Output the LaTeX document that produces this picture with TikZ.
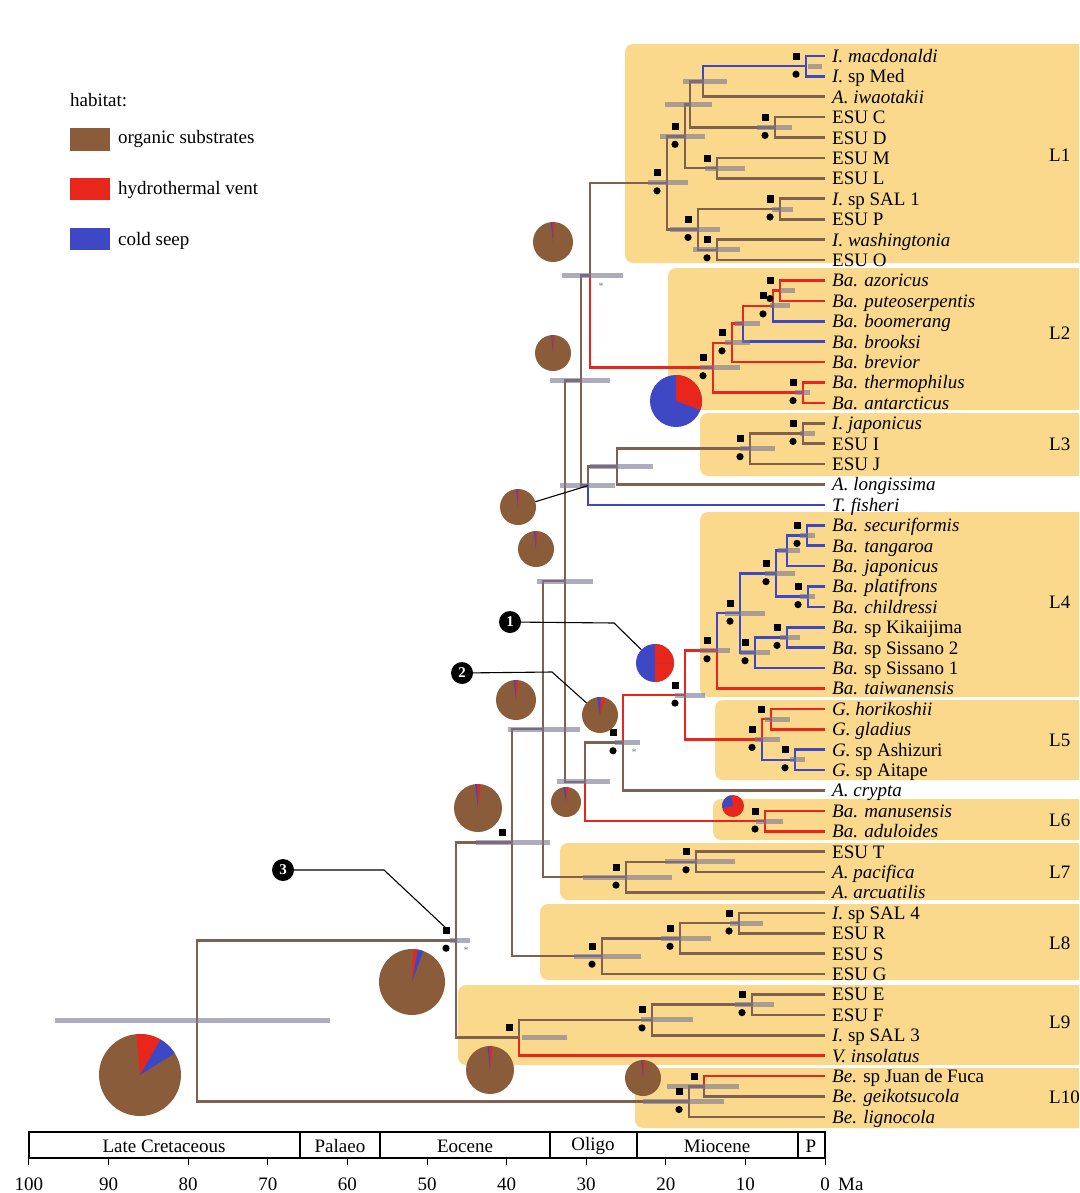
\documentclass[tikz,border=0pt]{standalone}
\usepackage{fontspec}
\setmainfont{Liberation Serif}
\usetikzlibrary{calc}
\definecolor{brn}{RGB}{128,96,78}
\definecolor{pbrn}{RGB}{139,92,58}
\definecolor{vred}{RGB}{232,38,28}
\definecolor{vblu}{RGB}{62,72,196}
\definecolor{clade}{RGB}{250,217,140}
\definecolor{hpdc}{RGB}{118,118,148}
\newcommand\mkN[4]{\path let \p1=($(#3)!0.5!(#4)$) in coordinate (#1) at (#2pt,\y1);}
\newcommand\edG[3]{\draw[br,#1] (#2) |- (#3);}
\newcommand\hpdB[3]{\draw[hpd] let \p1=(#1) in (#2pt,\y1) -- (#3pt,\y1);}
\newcommand\sqM[1]{\fill[black] ($(#1)+(-13.5,-13.5)$) rectangle ++(7,7);}
\newcommand\ciM[1]{\fill[black] ($(#1)+(-10,8)$) circle[radius=3.6pt];}
\newcommand\pieC[9][pbrn]{%
  \node[circle, fill=#1, minimum size={2*#5pt}, inner sep=0pt] (#2) at (#3,#4) {};
  \fill[vred] (#2.center) -- ++(#6:#5pt) arc[start angle=#6, end angle=#7, radius=#5pt] -- cycle;
  \fill[vblu] (#2.center) -- ++(#8:#5pt) arc[start angle=#8, end angle=#9, radius=#5pt] -- cycle;}
\begin{document}
\begin{tikzpicture}[x=1pt,y=-1pt,
  br/.style={line width=2.6pt},
  hpd/.style={line width=5pt, draw=hpdc, opacity=0.6},
  tip/.style={anchor=base west, inner sep=0pt, font=\fontsize{19}{21}\selectfont},
  txt/.style={inner sep=0pt, font=\fontsize{19}{21}\selectfont},
  callout/.style={circle, fill=black, text=white, inner sep=0pt, minimum size=22pt, font=\bfseries\fontsize{15}{15}\selectfont},
  leader/.style={line width=1.1pt, black},
  starmk/.style={inner sep=0pt, text=gray, font=\fontsize{10}{10}\selectfont}]
\useasboundingbox (0,0) rectangle (1079,1193);
\clip (0,0) rectangle (1079,1193);
\fill[white] (0,0) rectangle (1079,1193);

% clade boxes
\fill[clade, rounded corners=8pt] (625,44) rectangle (1100,263);
\fill[clade, rounded corners=8pt] (668,268) rectangle (1100,410);
\fill[clade, rounded corners=8pt] (700,413) rectangle (1100,476);
\fill[clade, rounded corners=8pt] (700,512) rectangle (1100,697);
\fill[clade, rounded corners=8pt] (715,700) rectangle (1100,780);
\fill[clade, rounded corners=8pt] (713,799) rectangle (1100,840);
\fill[clade, rounded corners=8pt] (560,843) rectangle (1100,900);
\fill[clade, rounded corners=8pt] (540,904) rectangle (1100,980);
\fill[clade, rounded corners=8pt] (458,985) rectangle (1100,1065);
\fill[clade, rounded corners=8pt] (635,1068) rectangle (1100,1128);

% tips
\foreach \i in {1,...,53} {\coordinate (t\i) at (825,{56+(\i-1)*20.4});}

% internal nodes
\mkN{a1}{806}{t1}{t2}
\mkN{a2}{703}{a1}{t3}
\mkN{a3}{775}{t4}{t5}
\mkN{a4}{690}{a2}{a3}
\mkN{a5}{717}{t6}{t7}
\mkN{a6}{685}{a4}{a5}
\mkN{a7}{780}{t8}{t9}
\mkN{a8}{717}{t10}{t11}
\mkN{a9}{698}{a7}{a8}
\mkN{a10}{667}{a6}{a9}
\mkN{b1}{780}{t12}{t13}
\mkN{b2}{773}{b1}{t14}
\mkN{b3}{743}{b2}{t15}
\mkN{b4}{732}{b3}{t16}
\mkN{b5}{803}{t17}{t18}
\mkN{r2}{713}{b4}{b5}
\mkN{n12}{590}{a10}{r2}
\mkN{c1}{803}{t19}{t20}
\mkN{c2}{750}{c1}{t21}
\mkN{d1}{617}{c2}{t22}
\mkN{d2}{588}{d1}{t23}
\mkN{n13}{581}{n12}{d2}
\mkN{e1}{807}{t24}{t25}
\mkN{e2}{787}{e1}{t26}
\mkN{e3}{808}{t27}{t28}
\mkN{e4}{776}{e2}{e3}
\mkN{e5}{787}{t29}{t30}
\mkN{e6}{755}{e5}{t31}
\mkN{e7}{740}{e4}{e6}
\mkN{e8}{717}{e7}{t32}
\mkN{f1}{771}{t33}{t34}
\mkN{f2}{795}{t35}{t36}
\mkN{f3}{762}{f1}{f2}
\mkN{g1}{685}{e8}{f3}
\mkN{g2}{623}{g1}{t37}
\mkN{h1}{765}{t38}{t39}
\mkN{g3}{585}{g2}{h1}
\mkN{n14}{565}{n13}{g3}
\mkN{k1}{696}{t40}{t41}
\mkN{k2}{626}{k1}{t42}
\mkN{n15}{543}{n14}{k2}
\mkN{m1}{739}{t43}{t44}
\mkN{m2}{680}{m1}{t45}
\mkN{m3}{602}{m2}{t46}
\mkN{n16}{512}{n15}{m3}
\mkN{p1}{752}{t47}{t48}
\mkN{p2}{652}{p1}{t49}
\mkN{p3}{519}{p2}{t50}
\mkN{n17}{456}{n16}{p3}
\mkN{q1}{704}{t51}{t52}
\mkN{q2}{689}{q1}{t53}
\mkN{root}{197}{n17}{q2}

% branches
\foreach \pa/\ch/\col in {a2/a1/vblu, a1/t1/vblu, a1/t2/vblu, a2/t3/brn, a4/a2/brn, a3/t4/brn, a3/t5/brn,
  a4/a3/brn, a6/a4/brn, a5/t6/brn, a5/t7/brn, a6/a5/brn, a10/a6/brn, a7/t8/brn, a7/t9/brn, a9/a7/brn,
  a8/t10/brn, a8/t11/brn, a9/a8/brn, a10/a9/brn, n12/a10/brn,
  b1/t12/vred, b1/t13/vred, b2/b1/vred, b2/t14/vblu, b3/b2/vred, b3/t15/vblu, b4/b3/vred, b4/t16/vred,
  r2/b4/vred, b5/t17/vred, b5/t18/vred, r2/b5/vred, n12/r2/vred,
  c1/t19/brn, c1/t20/brn, c2/c1/brn, c2/t21/brn, d1/c2/brn, d1/t22/brn, d2/d1/brn, d2/t23/vblu,
  n13/d2/brn, n13/n12/brn,
  e1/t24/vblu, e1/t25/vblu, e2/e1/vblu, e2/t26/vblu, e3/t27/vblu, e3/t28/vblu, e4/e2/vblu, e4/e3/vblu,
  e5/t29/vblu, e5/t30/vblu, e6/e5/vblu, e6/t31/vblu, e7/e4/vblu, e7/e6/vblu, e8/e7/vblu, e8/t32/vred,
  f1/t33/vred, f1/t34/vred, f2/t35/vblu, f2/t36/vblu, f3/f1/vred, f3/f2/vblu,
  g1/e8/vred, g1/f3/vred, g2/g1/vred, g2/t37/brn, h1/t38/vred, h1/t39/vred, g3/g2/brn, g3/h1/vred,
  n14/g3/brn, n14/n13/brn,
  k1/t40/brn, k1/t41/brn, k2/k1/brn, k2/t42/brn, n15/k2/brn, n15/n14/brn,
  m1/t43/brn, m1/t44/brn, m2/m1/brn, m2/t45/brn, m3/m2/brn, m3/t46/brn, n16/m3/brn, n16/n15/brn,
  p1/t47/brn, p1/t48/brn, p2/p1/brn, p2/t49/brn, p3/p2/brn, p3/t50/vred, n17/p3/brn, n17/n16/brn,
  q1/t51/vred, q1/t52/brn, q2/q1/brn, q2/t53/brn, root/q2/brn, root/n17/brn}
  {\edG{\col}{\pa}{\ch}}

% HPD bars
\foreach \nd/\lo/\hi in {a1/808/822, a2/683/727, a3/757/792, a4/665/712, a5/705/745, a6/660/705,
  a7/772/793, a8/693/740, a9/670/720, a10/648/688,
  b1/780/795, b2/770/790, b3/735/760, b4/725/750, r2/700/740, b5/795/810,
  c1/800/815, c2/740/775, d1/590/653, d2/560/615,
  e1/800/815, e2/778/800, e3/800/815, e4/765/795, e5/780/800, e6/740/770, e7/725/765, e8/700/730,
  f1/765/790, f2/790/805, f3/755/780, g1/675/705, g2/615/640, g3/557/610, h1/756/783,
  k1/665/735, k2/583/672, m1/730/763, m2/661/711, m3/574/641,
  p1/735/774, p2/641/693, p3/522/567, q1/667/739, q2/643/724,
  n12/562/623, n13/550/610, n14/537/593, n15/508/580, n16/476/550, n17/450/470, root/55/330}
  {\hpdB{\nd}{\lo}{\hi}}

% support markers
\foreach \nd in {a1,a3,a6,a7,a8,a9,a10,b1,b2,b4,r2,b5,c1,c2,e1,e3,e4,e5,e6,e7,e8,f2,f3,g1,g2,h1,
  k1,k2,m1,m2,m3,p1,p2,q2,n17} {\sqM{\nd}\ciM{\nd}}
\foreach \nd in {a5,f1,p3,q1,n16} {\sqM{\nd}}

\node[starmk] (st1) at (601,286) {*};
\node[starmk] (st2) at (634,752) {*};
\node[starmk] (st3) at (466,950) {*};

% pies
\pieC{P1}{553}{242}{20}{85}{92}{92}{97}
\pieC{P2}{553}{353}{18}{85}{92}{92}{96}
\pieC{P3}{518}{507}{18}{86}{92}{92}{96}
\pieC{P4}{536}{549}{18}{86}{92}{92}{97}
\pieC{P5}{516}{700}{20}{84}{92}{92}{97}
\pieC{P6}{600}{715}{18}{72}{88}{88}{100}
\pieC[vblu]{P7}{655}{663}{19}{90}{-90}{0}{0}
\pieC[vblu]{P8}{676}{401}{26}{90}{-20}{0}{0}
\pieC{P9}{566}{802}{15}{82}{92}{92}{100}
\pieC{P10}{478}{808}{24}{84}{92}{92}{97}
\pieC[vred]{P11}{733}{806}{11}{0}{0}{100}{190}
\pieC{P12}{412}{982}{33}{80}{88}{70}{80}
\pieC{P13}{490}{1070}{24}{84}{92}{92}{96}
\pieC{P14}{643}{1078}{18}{84}{92}{92}{96}
\pieC{P15}{140}{1075}{41}{60}{95}{32}{60}

\draw[leader] (P3) -- (d2);

% callouts
\node[callout] (co1) at (510,622) {1};
\node[callout] (co2) at (462,673) {2};
\node[callout] (co3) at (283,870) {3};
\coordinate (k1b) at (614,623);
\coordinate (k2b) at (552,672);
\coordinate (k3b) at (384,870);
\coordinate (k3e) at (447,929);
\draw[leader] (co1) -- (k1b) -- (P7);
\draw[leader] (co2) -- (k2b) -- (P6);
\draw[leader] (co3) -- (k3b) -- (k3e);

% tip labels
\foreach \i/\t in {1/\textit{I. macdonaldi}, 2/\textit{I.} sp Med, 3/\textit{A. iwaotakii},
  4/ESU C, 5/ESU D, 6/ESU M, 7/ESU L, 8/\textit{I.} sp SAL 1, 9/ESU P, 10/\textit{I. washingtonia}, 11/ESU O,
  12/\textit{Ba. azoricus}, 13/\textit{Ba. puteoserpentis}, 14/\textit{Ba. boomerang}, 15/\textit{Ba. brooksi},
  16/\textit{Ba. brevior}, 17/\textit{Ba. thermophilus}, 18/\textit{Ba. antarcticus},
  19/\textit{I. japonicus}, 20/ESU I, 21/ESU J, 22/\textit{A. longissima}, 23/\textit{T. fisheri},
  24/\textit{Ba. securiformis}, 25/\textit{Ba. tangaroa}, 26/\textit{Ba. japonicus}, 27/\textit{Ba. platifrons},
  28/\textit{Ba. childressi}, 29/\textit{Ba.} sp Kikaijima, 30/\textit{Ba.} sp Sissano 2, 31/\textit{Ba.} sp Sissano 1,
  32/\textit{Ba. taiwanensis}, 33/\textit{G. horikoshii}, 34/\textit{G. gladius}, 35/\textit{G.} sp Ashizuri,
  36/\textit{G.} sp Aitape, 37/\textit{A. crypta}, 38/\textit{Ba. manusensis}, 39/\textit{Ba. aduloides},
  40/ESU T, 41/\textit{A. pacifica}, 42/\textit{A. arcuatilis}, 43/\textit{I.} sp SAL 4, 44/ESU R, 45/ESU S,
  46/ESU G, 47/ESU E, 48/ESU F, 49/\textit{I.} sp SAL 3, 50/\textit{V. insolatus},
  51/\textit{Be.} sp Juan de Fuca, 52/\textit{Be. geikotsucola}, 53/\textit{Be. lignocola}}
  {\node[tip, xshift=7pt, yshift=-6.5pt] (lab\i) at (t\i) {\t};}

% clade labels
\foreach \j/\yy in {1/155, 2/333, 3/444, 4/602, 5/740, 6/820, 7/872, 8/943, 9/1022, 10/1097}
  {\node[txt, anchor=west] (L\j) at (1049,\yy) {L\j};}

% legend
\node[txt, anchor=west] (hab) at (70,100) {habitat:};
\fill[pbrn] (70,128) rectangle (110,151);
\fill[vred] (70,178) rectangle (110,200);
\fill[vblu] (70,228) rectangle (110,250);
\node[txt, anchor=west] (lg1) at (118,139) {organic substrates};
\node[txt, anchor=west] (lg2) at (118,190) {hydrothermal vent};
\node[txt, anchor=west] (lg3) at (118,241) {cold seep};

% time scale
\draw[line width=1.2pt] (29,1132) rectangle (825,1158);
\foreach \xx in {300,380,550,637,798} {\draw[line width=1.2pt] (\xx,1132) -- (\xx,1158);}
\node[txt] (ep1) at (164,1146) {Late Cretaceous};
\node[txt] (ep2) at (340,1146) {Palaeo};
\node[txt] (ep3) at (465,1146) {Eocene};
\node[txt] (ep4) at (593,1146) {Oligo};
\node[txt] (ep5) at (717,1146) {Miocene};
\node[txt] (ep6) at (811,1146) {P};
\foreach \tt in {0,10,...,100} {
  \draw[line width=1pt] ({825-7.96*\tt},1158) -- ({825-7.96*\tt},1165);
  \node[txt] (ax\tt) at ({825-7.96*\tt},1184) {\tt};}
\node[txt, anchor=west] (ma) at (838,1184) {Ma};
\end{tikzpicture}
\end{document}
